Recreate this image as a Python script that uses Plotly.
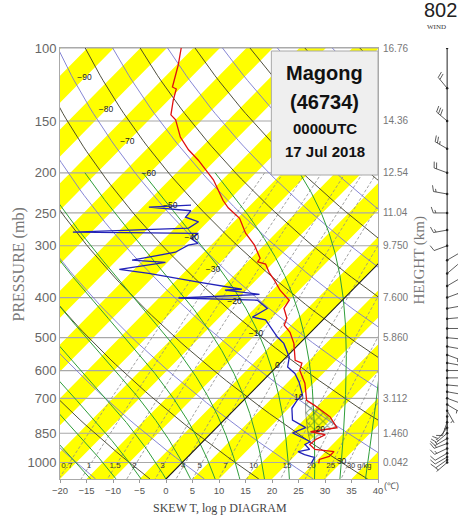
import numpy as np
import plotly.graph_objects as go

# ---------------- data ----------------
pressure_levels = [100, 150, 200, 250, 300, 400, 500, 600, 700, 850, 1000]
pressure_labels = ["100", "150", "200", "250", "300", "400", "500", "600", "700", "850", "1000"]
height_levels = [100, 150, 200, 250, 300, 400, 500, 700, 850, 1000]
height_labels = ["16.76", "14.36", "12.54", "11.04", "9.750", "7.600", "5.860", "3.112", "1.460", "0.042"]
temp_ticks = [-20, -15, -10, -5, 0, 5, 10, 15, 20, 25, 30, 35, 40]
temp_ticktext = ["\u221220", "\u221215", "\u221210", "\u22125", "0", "5", "10", "15", "20", "25", "30", "35", "40"]

# temperature sounding (hPa, degC)
temp_p = [100, 109.9, 124.2, 125.6, 133.6, 145, 149, 164, 176, 186.5, 208, 233, 243, 257.6, 279.8,
          299, 321.6, 328, 332, 347.7, 364, 384, 406, 424.6, 448.7, 466.4, 485, 516, 567, 576,
          599, 644, 708, 727, 776, 824, 843, 857, 880, 905, 930, 941, 967, 983, 1005]
temp_T = [-77.3, -74.7, -71.7, -70.6, -69.1, -66.8, -65.0, -60.9, -57.0, -53.2, -46.7, -41.1, -38.7, -34.6, -30.7,
          -26.8, -23.3, -23.1, -21.2, -19.0, -16.4, -13.6, -10.0, -9.5, -7.1, -6.3, -3.9, -1.1, 2.3, 4.1,
          5.0, 8.4, 11.9, 14.2, 19.4, 22.7, 18.5, 21.8, 20.9, 20.7, 22.6, 26.6, 26.6, 25.3, 25.9]

# dew point sounding (hPa, degC)
dew_p = [239.5, 242, 247, 256, 262.6, 272, 278, 280, 288, 296, 299, 311, 325, 329, 342, 349.7, 367,
         382, 384, 393, 401, 406, 425, 446, 453, 498, 516, 557, 588, 610, 640, 687, 708, 740, 790,
         824, 848, 891, 905, 930, 941, 957, 967, 972, 1005]
dew_T = [-46.2, -53.8, -45.2, -45.0, -41.7, -42.4, -63.5, -39.6, -40.0, -37.8, -39.3, -40.4, -47.1, -40.4, -47.8, -41.5, -30.5,
         -21.0, -24.0, -16.7, -31.3, -16.0, -12.6, -13.8, -10.8, -5.4, -3.0, 0.6, 2.1, 4.7, 7.1, 10.1, 10.1, 10.6, 12.9,
         16.8, 15.3, 20.3, 19.8, 21.6, 19.8, 21.6, 23.1, 24.0, 24.5]

# left edge of the hatched layer
layer_p = [890, 850, 800, 760, 708]
layer_T = [20.2, 18.3, 16.0, 14.1, 11.7]

mixing_ratios = [0.7, 1, 1.5, 2, 3, 4, 5, 7, 10, 15, 20, 25, 30]
mixing_text = ["0.7", "1", "1.5", "2", "3", "4", "5", "7", "10", "15", "20", "25", "30 g/kg"]
isotherm_label_vals = [-90, -80, -70, -60, -50, -40, -30, -20, -10, 0, 10, 20, 30]

# wind profile (hPa, deg, kt)
wind_p = [1000, 985, 970, 950, 925, 900, 875, 850, 825, 800, 775, 750, 725, 700, 675, 650, 625, 600, 575,
          550, 525, 500, 475, 450, 425, 400, 375, 350, 325, 300, 275, 250, 225, 200, 175, 150, 125, 100]
wind_dir = [230, 235, 240, 240, 245, 250, 240, 230, 220, 200, 180, 150, 120, 110, 100, 95, 90, 90, 100,
            110, 100, 95, 90, 85, 80, 70, 60, 50, 60, 250, 260, 270, 280, 290, 300, 310, 320, 300]
wind_spd = [8, 10, 12, 12, 14, 15, 15, 14, 12, 10, 8, 6, 8, 10, 12, 14, 15, 16, 15,
            14, 12, 10, 10, 12, 14, 15, 12, 10, 10, 12, 14, 15, 18, 20, 25, 30, 20, 15]

station = ["Magong", "(46734)", "0000UTC", "17 Jul 2018"]

# ---------------- diagram geometry ----------------
PTOP, PBOT = 100.0, 1096.0
K = 77.1          # skew: degC per decade of pressure
LOGB = np.log10(PBOT)


def skx(T, p):
    return np.asarray(T, float) + K * (LOGB - np.log10(np.asarray(p, float)))


def seg_lists(curves):
    xs, ys = [], []
    for cx, cy in curves:
        xs += list(cx) + [None]
        ys += list(cy) + [None]
    return xs, ys


fig = go.Figure()

# yellow isotherm bands
bx, by = [], []
for k in range(-11, 6):
    t1, t2 = 10 * k - 5, 10 * k
    bx += [float(skx(t1, PBOT)), float(skx(t2, PBOT)), float(skx(t2, PTOP)), float(skx(t1, PTOP)), None]
    by += [PBOT, PBOT, PTOP, PTOP, None]
fig.add_trace(go.Scatter(x=bx, y=by, mode="lines", fill="toself", fillcolor="#ffff00",
                         line=dict(width=0, color="rgba(0,0,0,0)"), hoverinfo="skip"))

# isobars
ix, iy = seg_lists([([-20, 40], [p, p]) for p in pressure_levels])
fig.add_trace(go.Scatter(x=ix, y=iy, mode="lines", line=dict(color="#a8a8a8", width=1.2), hoverinfo="skip"))

# mixing ratio lines
pg = np.logspace(np.log10(200), LOGB, 60)
curves = []
for w in mixing_ratios:
    e = w * pg / (622.0 + w)
    lg = np.log(e / 6.112)
    td = 243.5 * lg / (17.67 - lg)
    curves.append((skx(td, pg), pg))
mx, my = seg_lists(curves)
fig.add_trace(go.Scatter(x=mx, y=my, mode="lines", line=dict(color="#8c8c8c", width=0.8, dash="3px,2px"),
                         hoverinfo="skip"))

# dry adiabats
pd_ = np.logspace(2, LOGB, 80)
blk, blu = [], []
for th in range(-40, 200, 10):
    T = (th + 273.15) * (pd_ / 1000.0) ** 0.2857 - 273.15
    (blk if (th // 10) % 2 else blu).append((skx(T, pd_), pd_))
dx1, dy1 = seg_lists(blu)
dx2, dy2 = seg_lists(blk)
fig.add_trace(go.Scatter(x=dx1, y=dy1, mode="lines", line=dict(color="#7878d0", width=0.9), hoverinfo="skip"))
fig.add_trace(go.Scatter(x=dx2, y=dy2, mode="lines", line=dict(color="#3c3c28", width=0.9), hoverinfo="skip"))


# moist adiabats
def dTdp(p, T):
    es = 6.112 * np.exp(17.67 * (T - 273.15) / (T - 29.65))
    rs = 0.622 * es / (p - es)
    num = (287.04 * T + 2.501e6 * rs) / p
    den = 1005.7 + (2.501e6 ** 2 * rs * 0.622) / (287.04 * T * T)
    return num / den


def integrate(T0, p0, p1, n):
    ps = np.linspace(p0, p1, n)
    Ts = [T0]
    T = T0
    for i in range(n - 1):
        h = ps[i + 1] - ps[i]
        p = ps[i]
        k1 = dTdp(p, T)
        k2 = dTdp(p + h / 2, T + h / 2 * k1)
        k3 = dTdp(p + h / 2, T + h / 2 * k2)
        k4 = dTdp(p + h, T + h * k3)
        T = T + h / 6 * (k1 + 2 * k2 + 2 * k3 + k4)
        Ts.append(T)
    return ps, np.array(Ts)


tw = np.arange(-20, 50, 5) + 273.15
pu, Tu = integrate(tw, 1000.0, 200.0, 401)
pdn, Tdn = integrate(tw, 1000.0, PBOT, 50)
curves = []
for i in range(len(tw)):
    pp = np.concatenate([pu[::-1], pdn[1:]])
    TT = np.concatenate([Tu[::-1, i], Tdn[1:, i]]) - 273.15
    curves.append((skx(TT, pp), pp))
gx, gy = seg_lists(curves)
fig.add_trace(go.Scatter(x=gx, y=gy, mode="lines", line=dict(color="#2f9e3a", width=1.0), hoverinfo="skip"))

# 0 degC isotherm
fig.add_trace(go.Scatter(x=[float(skx(0, PBOT)), float(skx(0, PTOP))], y=[PBOT, PTOP], mode="lines",
                         line=dict(color="#1a1a1a", width=1.1), hoverinfo="skip"))

# hatched moist layer between layer edge and temperature curve
tp = np.array(temp_p)
tT = np.array(temp_T)
sel = (tp >= min(layer_p)) & (tp <= max(layer_p))
hx = list(skx(layer_T, layer_p)) + list(skx(tT[sel], tp[sel]))
hy = list(layer_p) + list(tp[sel])
fig.add_trace(go.Scatter(x=hx, y=hy, mode="lines", fill="toself", fillcolor="rgba(0,0,0,0)",
                         fillpattern=dict(shape="x", fgcolor="#2d6a2d", bgcolor="rgba(0,0,0,0)", size=6, solidity=0.35),
                         line=dict(color="#555", width=0.6), hoverinfo="skip"))

# soundings
fig.add_trace(go.Scatter(x=skx(dew_T, dew_p), y=dew_p, mode="lines", line=dict(color="#2222b8", width=1.3),
                         hoverinfo="skip"))
fig.add_trace(go.Scatter(x=skx(temp_T, temp_p), y=temp_p, mode="lines", line=dict(color="#e01010", width=1.3),
                         hoverinfo="skip"))

# isotherm labels along a diagonal
lab_p = [118.0 * (998.0 / 118.0) ** ((t + 90) / 120.0) for t in isotherm_label_vals]
fig.add_trace(go.Scatter(x=skx(isotherm_label_vals, lab_p), y=lab_p, mode="text",
                         text=[("\u2212%d" % -t) if t < 0 else str(t) for t in isotherm_label_vals],
                         textfont=dict(size=8.5, color="#222", family="Liberation Sans"), hoverinfo="skip"))

# mixing ratio labels
plab = 1022.0
e = np.array(mixing_ratios) * plab / (622.0 + np.array(mixing_ratios))
lg = np.log(e / 6.112)
tdl = 243.5 * lg / (17.67 - lg)
xl = skx(tdl, [plab] * len(mixing_ratios))
fig.add_trace(go.Scatter(x=xl[:-1], y=[plab] * (len(mixing_ratios) - 1), mode="text", text=mixing_text[:-1],
                         textfont=dict(size=8, color="#333", family="Liberation Sans"), hoverinfo="skip"))
fig.add_trace(go.Scatter(x=[xl[-1]], y=[plab], mode="text", text=[mixing_text[-1]], textposition="middle right",
                         textfont=dict(size=7.5, color="#333", family="Liberation Sans"), hoverinfo="skip"))

# dummy trace for the height axis
fig.add_trace(go.Scatter(x=[0], y=[500], yaxis="y2", mode="markers", marker=dict(opacity=0), hoverinfo="skip"))

# ---------------- wind barbs ----------------
XW = 452.0
L, F, S = 14.0, 6.0, 2.6
wx, wy = [], []


def topt(dx, dy, p0):
    return XW + dx, p0 * 10 ** (-dy / 414.0)


for p0, d, s in zip(wind_p, wind_dir, wind_spd):
    r = np.deg2rad(d)
    ux, uy = np.sin(r), np.cos(r)
    vx, vy = uy, -ux
    a = topt(0, 0, p0)
    b = topt(L * ux, L * uy, p0)
    wx += [a[0], b[0], None]
    wy += [a[1], b[1], None]
    n10 = int(s // 10)
    n5 = int(round((s % 10) / 5.0))
    pos = L
    for _ in range(n10):
        c = topt(pos * ux, pos * uy, p0)
        q = topt((pos + 0.35 * F) * ux + F * vx, (pos + 0.35 * F) * uy + F * vy, p0)
        wx += [c[0], q[0], None]
        wy += [c[1], q[1], None]
        pos -= S
    if n5:
        if n10 == 0:
            pos -= S
        c = topt(pos * ux, pos * uy, p0)
        q = topt((pos + 0.18 * F) * ux + 0.5 * F * vx, (pos + 0.18 * F) * uy + 0.5 * F * vy, p0)
        wx += [c[0], q[0], None]
        wy += [c[1], q[1], None]

fig.add_trace(go.Scatter(x=[XW, XW], y=[max(wind_p), min(wind_p)], xaxis="x3", yaxis="y3", mode="lines",
                         line=dict(color="#222", width=1), hoverinfo="skip"))
fig.add_trace(go.Scatter(x=wx, y=wy, xaxis="x3", yaxis="y3", mode="lines", line=dict(color="#333", width=0.8),
                         hoverinfo="skip"))
fig.add_trace(go.Scatter(x=[XW] * len(wind_p), y=wind_p, xaxis="x3", yaxis="y3", mode="markers",
                         marker=dict(color="#222", size=2.5), hoverinfo="skip"))

# ---------------- layout ----------------
W, H = 463, 516
ML, MR, MT, MB = 60, 0, 48, 37
PW, PH = W - ML - MR, H - MT - MB


def px(x):
    return (x - ML) / PW


def py(y):
    return (H - MB - y) / PH


yr = [LOGB, 2.0]
fig.update_layout(
    width=W, height=H, margin=dict(l=ML, r=MR, t=MT, b=MB),
    paper_bgcolor="white", plot_bgcolor="white", showlegend=False,
    xaxis=dict(domain=[0, px(382)], range=[-20, 40], tickvals=temp_ticks, ticktext=temp_ticktext,
               tickfont=dict(size=9.5, color="#555", family="Liberation Sans"), ticks="outside", ticklen=3,
               tickcolor="#999", showgrid=False, zeroline=False, showline=True, linecolor="#aaa", mirror=True),
    yaxis=dict(type="log", range=yr, tickvals=pressure_levels, ticktext=pressure_labels,
               tickfont=dict(size=13, color="#666", family="Liberation Sans"), ticks="", showgrid=False,
               zeroline=False, showline=True, linecolor="#aaa", mirror=True),
    yaxis2=dict(type="log", range=yr, overlaying="y", side="right", tickvals=height_levels,
                ticktext=height_labels, tickfont=dict(size=10, color="#777", family="Liberation Sans"),
                ticks="", ticklabelstandoff=4, showgrid=False, zeroline=False),
    xaxis3=dict(domain=[px(430), 1.0], range=[430, 463], visible=False, anchor="y3"),
    yaxis3=dict(type="log", range=yr, visible=False, anchor="x3"),
)

fig.add_shape(type="rect", xref="paper", yref="paper", x0=px(274), x1=px(382), y0=py(175), y1=py(51),
              fillcolor="#efefef", line=dict(color="#a8a8a8", width=1), layer="above")


def note(x, y, text, size, color, family, angle=0):
    return dict(x=px(x), y=py(y), xref="paper", yref="paper", text=text, showarrow=False,
                xanchor="center", yanchor="middle", textangle=angle,
                font=dict(size=size, color=color, family=family))


ann = []
for txt, yy, sz in zip(station, [73, 102, 128, 151], [20, 20, 15, 15]):
    ann.append(note(328, yy, "<b>%s</b>" % txt, sz, "#111", "Liberation Sans"))
ann += [
    note(18, 265, "PRESSURE (mb)", 16, "#777", "Liberation Serif", -90),
    note(424, 260, "HEIGHT (km)", 15, "#777", "Liberation Serif", -90),
    note(222, 508, "SKEW T, log p DIAGRAM", 12, "#444", "Liberation Serif"),
    note(396, 486, "(\u2103)", 9, "#555", "Liberation Sans"),
    note(445, 10, "802", 20, "#222", "Liberation Sans"),
    note(441, 27, "WIND", 7, "#333", "Liberation Serif"),
]
fig.update_layout(annotations=ann)

fig.write_html("out.html")
